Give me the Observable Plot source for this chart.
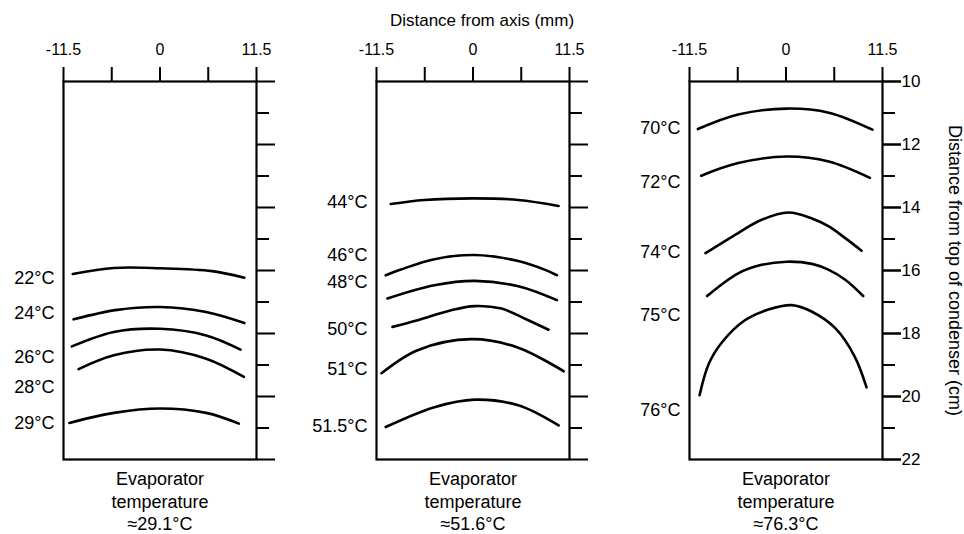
<!DOCTYPE html>
<html>
<head>
<meta charset="utf-8">
<script src="https://cdn.jsdelivr.net/npm/d3@7"></script>
<script src="https://cdn.jsdelivr.net/npm/@observablehq/plot@0.6"></script>
<style>
  body { margin: 0; background: #fff; font-family: "Liberation Sans", Arial, Helvetica, sans-serif; }
  #title { width: 964px; height: 30px; box-sizing: border-box; padding-top: 12px; line-height: 17px;
           font-size: 17px; text-align: center; color: #000; }
  #chart svg { display: block; }
</style>
</head>
<body>
<div id="title">Distance from axis (mm)</div>
<div id="chart"></div>
<script>
// ---- data ----
const panels = ["p1", "p2", "p3"];
const evaporatorCaptions = ["Evaporator\ntemperature\n≈29.1°C", "Evaporator\ntemperature\n≈51.6°C", "Evaporator\ntemperature\n≈76.3°C"];

const xTicks = [-11.5, -5.75, 0, 5.75, 11.5];
const xTickLabels = ["-11.5", "", "0", "", "11.5"];
const yMajorTicks = [10, 12, 14, 16, 18, 20, 22];
const yMinorTicks = [11, 13, 15, 17, 19, 21];
const yTitle = "Distance from top of condenser (cm)";

// Panel 1 (evaporator ≈29.1°C): [distance from axis mm, distance from top cm]
const labels1 = ["22°C", "24°C", "26°C", "28°C", "29°C"];
const labelY1 = [16.25, 17.35, 18.76, 19.70, 20.85];
const curves1 = [
  [[-10.4, 16.11], [-5.5, 15.92], [0, 15.93], [6.2, 16.02], [10.05, 16.23]],
  [[-10.3, 17.55], [-5.1, 17.25], [0, 17.16], [5.5, 17.32], [10.05, 17.67]],
  [[-10.5, 18.41], [-5.5, 17.95], [0, 17.85], [5.5, 18.06], [9.6, 18.51]],
  [[-9.7, 19.13], [-5.5, 18.69], [0, 18.51], [5.5, 18.80], [10.0, 19.38]],
  [[-10.8, 20.84], [-5.5, 20.52], [0, 20.38], [5.5, 20.52], [9.4, 20.86]]
];

// Panel 2 (evaporator ≈51.6°C)
const labels2 = ["44°C", "46°C", "48°C", "50°C", "51°C", "51.5°C"];
const labelY2 = [13.83, 15.51, 16.37, 17.87, 19.12, 20.94];
const curves2 = [
  [[-9.8, 13.89], [-5.8, 13.76], [0.2, 13.71], [5.4, 13.76], [10.2, 13.95]],
  [[-10.4, 16.15], [-8.6, 15.97], [-4.6, 15.64], [0.2, 15.51], [5.4, 15.70], [8.6, 15.98], [10.0, 16.15]],
  [[-10.2, 16.89], [-4.6, 16.47], [0.2, 16.33], [5.4, 16.50], [10.0, 16.94]],
  [[-9.6, 17.79], [-6.6, 17.58], [-2.6, 17.26], [0.2, 17.13], [3.4, 17.21], [6.2, 17.53], [9.0, 17.88]],
  [[-10.9, 19.26], [-6.6, 18.53], [-0.2, 18.18], [5.4, 18.45], [10.8, 19.20]],
  [[-10.4, 20.97], [-4.6, 20.34], [0.2, 20.10], [5.4, 20.28], [10.2, 20.92]]
];

// Panel 3 (evaporator ≈76.3°C)
const labels3 = ["70°C", "72°C", "74°C", "75°C", "76°C"];
const labelY3 = [11.48, 13.21, 15.43, 17.43, 20.45];
const curves3 = [
  [[-10.5, 11.51], [-5.7, 11.05], [0.1, 10.86], [5.1, 10.99], [10.3, 11.53]],
  [[-10.1, 12.99], [-5.7, 12.59], [0.1, 12.38], [5.1, 12.54], [10.0, 13.06]],
  [[-9.6, 15.45], [-5.7, 14.81], [-2.9, 14.39], [0.3, 14.16], [3.1, 14.35], [5.1, 14.60], [7.1, 14.98], [9.0, 15.37]],
  [[-9.4, 16.81], [-5.7, 16.09], [-2.9, 15.82], [0.1, 15.72], [3.1, 15.79], [5.1, 15.98], [7.1, 16.30], [9.2, 16.81]],
  [[-10.3, 19.96], [-9.2, 18.96], [-7.6, 18.27], [-4.9, 17.58], [-2.1, 17.24], [0.7, 17.10], [3.1, 17.31], [5.9, 17.84], [8.2, 18.74], [9.6, 19.71]]
];

// ---- build tables ----
const panelData = [[labels1, labelY1, curves1], [labels2, labelY2, curves2], [labels3, labelY3, curves3]];
const linePoints = [];
const curveLabels = [];
panelData.forEach(([labels, labelY, curves], p) => {
  curves.forEach((pts, i) => {
    pts.forEach(([x, y]) => linePoints.push({panel: panels[p], curve: panels[p] + "-" + labels[i], x, y}));
    curveLabels.push({panel: panels[p], text: labels[i], y: labelY[i]});
  });
});
const captions = panels.map((p, i) => ({panel: p, text: evaporatorCaptions[i]}));
const xLabelMap = new Map(xTicks.map((t, i) => [t, xTickLabels[i]]));

const chart = Plot.plot({
  width: 964,
  height: 504,
  marginTop: 51,
  marginBottom: 75,
  marginLeft: 62,
  marginRight: 80,
  style: {fontFamily: "'Liberation Sans', Arial, Helvetica, sans-serif", fontSize: "17px", color: "#000", background: "#fff"},
  fx: {domain: panels, paddingInner: 0.382, paddingOuter: 0, axis: null, label: null},
  x: {domain: [-11.5, 11.5]},
  y: {domain: [10, 22], reverse: true},
  marks: [
    Plot.frame({stroke: "#000", strokeWidth: 2.2}),
    Plot.axisX(xTicks, {anchor: "top", tickSize: 15, tickPadding: 12, strokeWidth: 2, fontSize: 16,
      tickFormat: d => xLabelMap.get(d), label: null, facetAnchor: null}),
    Plot.axisY(yMinorTicks, {anchor: "right", tickSize: 12, strokeWidth: 2, tickFormat: () => "", label: null, facetAnchor: null}),
    Plot.axisY(yMajorTicks, {anchor: "right", tickSize: 18, strokeWidth: 2, tickFormat: () => "", label: null, facetAnchor: null}),
    Plot.axisY(yMajorTicks, {anchor: "right", tickSize: 18, tickPadding: 1, strokeWidth: 2, fontSize: 17,
      tickFormat: d => String(d), label: null}),
    Plot.line(linePoints, {fx: "panel", x: "x", y: "y", z: "curve", curve: "catmull-rom", stroke: "#000", strokeWidth: 2.6}),
    Plot.text(curveLabels, {fx: "panel", y: "y", text: "text", frameAnchor: "left", textAnchor: "end", dx: -9, fontSize: 18}),
    Plot.text(captions, {fx: "panel", text: "text", frameAnchor: "bottom", lineAnchor: "top", dy: 9, fontSize: 18, lineHeight: 1.27}),
    Plot.text([{panel: "p3", text: yTitle}], {fx: "panel", text: "text", frameAnchor: "right", textAnchor: "middle",
      rotate: 90, dx: 72, fontSize: 18})
  ]
});
document.getElementById("chart").appendChild(chart);
</script>
</body>
</html>
